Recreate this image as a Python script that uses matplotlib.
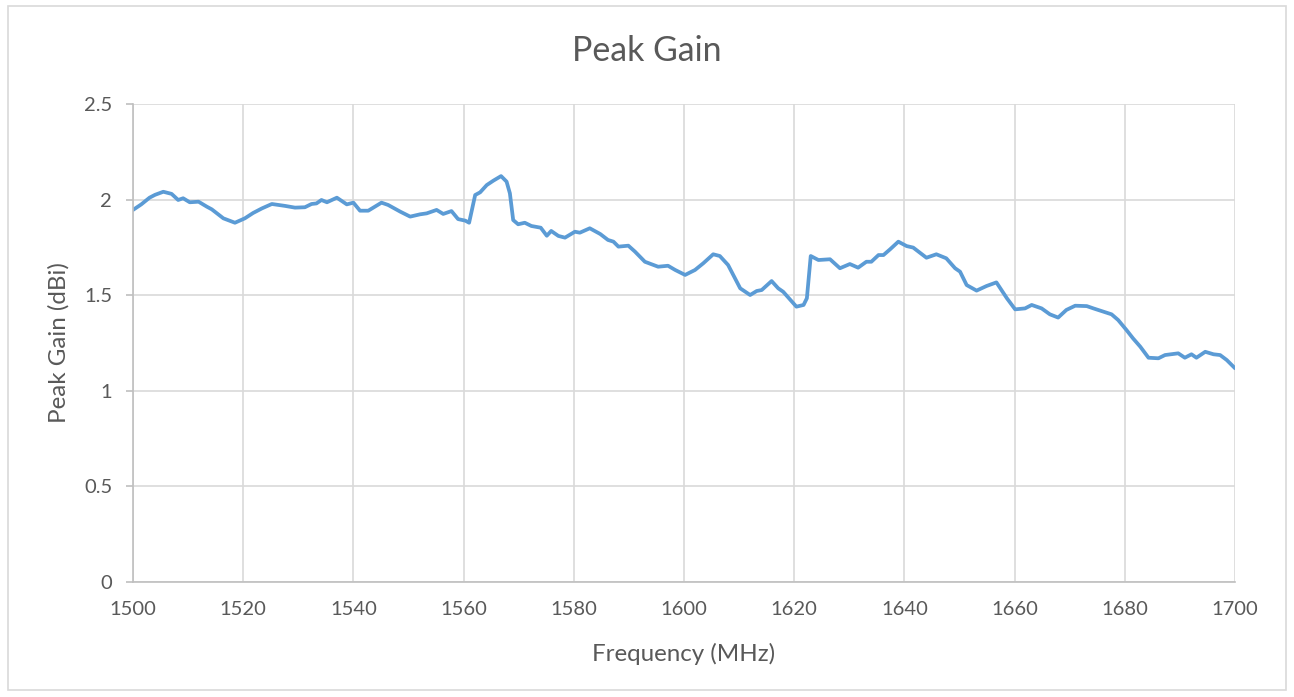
import matplotlib
matplotlib.use("Agg")
import matplotlib.pyplot as plt
from matplotlib.patches import Rectangle

freq = [1500, 1501.5, 1503, 1504, 1505.5, 1507, 1508.2, 1509.1, 1510.3, 1511.9, 1513.4, 1514.3,
        1516.4, 1518.5, 1520.3, 1521.8, 1523.4, 1525.2, 1527.6, 1529.4, 1531.2, 1532.4, 1533.3,
        1534.2, 1535.2, 1537, 1538.8, 1540, 1541.2, 1542.7, 1543.9, 1545.1, 1546.3, 1548.5,
        1550.3, 1552.1, 1553.3, 1555.1, 1556.3, 1557.8, 1559, 1560.3, 1561, 1562.1, 1563,
        1564.2, 1565.4, 1566.8, 1567.8, 1568.4, 1569, 1569.9, 1571.1, 1572.3, 1574, 1575.1,
        1575.9, 1577.2, 1578.4, 1580.2, 1581.1, 1582.9, 1584.8, 1586.2, 1587.2, 1588.1,
        1589.9, 1591.1, 1592.9, 1595.3, 1597.1, 1598.4, 1600.2, 1602, 1603.5, 1605.3, 1606.5,
        1608, 1610.2, 1612, 1613.2, 1614.1, 1615.9, 1617.1, 1618, 1620.4, 1621.7, 1622.3,
        1623, 1624.4, 1626.5, 1628.3, 1630.1, 1631.6, 1633.1, 1634, 1635.3, 1636.2, 1637.4,
        1638.9, 1640.4, 1641.6, 1644, 1645.8, 1647.6, 1649.2, 1650.1, 1651.3, 1653.1, 1654.9,
        1656.7, 1658.6, 1660.1, 1661.9, 1663.1, 1664.9, 1666.4, 1667.9, 1669.4, 1671,
        1673.1, 1674.3, 1676.1, 1677.6, 1678.8, 1680.3, 1681.5, 1682.8, 1684.3, 1686.1,
        1687.3, 1689.7, 1690.9, 1692.1, 1693, 1694.6, 1696.1, 1697.3, 1698.5, 1700]
gain = [1.946, 1.975, 2.01, 2.025, 2.041, 2.03, 1.998, 2.007, 1.986, 1.989, 1.963, 1.949,
        1.902, 1.879, 1.902, 1.93, 1.954, 1.977, 1.967, 1.958, 1.96, 1.977, 1.98,
        1.998, 1.986, 2.01, 1.975, 1.984, 1.942, 1.942, 1.963, 1.984, 1.972, 1.937,
        1.911, 1.923, 1.928, 1.946, 1.925, 1.94, 1.898, 1.89, 1.879, 2.024, 2.038,
        2.076, 2.099, 2.123, 2.094, 2.033, 1.893, 1.871, 1.879, 1.862, 1.853, 1.811,
        1.836, 1.81, 1.801, 1.832, 1.827, 1.85, 1.82, 1.789, 1.78, 1.754,
        1.759, 1.728, 1.675, 1.649, 1.654, 1.632, 1.606, 1.632, 1.667, 1.714, 1.705,
        1.658, 1.536, 1.501, 1.522, 1.527, 1.574, 1.536, 1.518, 1.44, 1.449, 1.484,
        1.705, 1.684, 1.688, 1.641, 1.663, 1.644, 1.675, 1.675, 1.71, 1.71, 1.74,
        1.78, 1.757, 1.749, 1.696, 1.714, 1.693, 1.641, 1.623, 1.553, 1.524, 1.548,
        1.567, 1.484, 1.426, 1.431, 1.449, 1.431, 1.4, 1.383, 1.423, 1.445,
        1.443, 1.431, 1.414, 1.4, 1.37, 1.318, 1.274, 1.231, 1.173, 1.17,
        1.187, 1.196, 1.173, 1.191, 1.173, 1.204, 1.191, 1.187, 1.161, 1.118]

xticks = [1500, 1520, 1540, 1560, 1580, 1600, 1620, 1640, 1660, 1680, 1700]
yticks = [0, 0.5, 1, 1.5, 2, 2.5]
ytick_labels = ["0", "0.5", "1", "1.5", "2", "2.5"]

plt.rcParams['font.family'] = ['Lato', 'DejaVu Sans']
text_color = "#595959"
grid_color = "#D9D9D9"

W, H = 1294, 697
fig = plt.figure(figsize=(W / 100, H / 100), dpi=100)
fig.patch.set_facecolor("white")
fig.patches.append(Rectangle((8 / W, 1 - 690 / H), (1286 - 8) / W, (690 - 6) / H,
                             transform=fig.transFigure, fill=False,
                             edgecolor=grid_color, linewidth=1.2))

left, right, top, bottom = 133, 1235, 104, 582
ax = fig.add_axes([left / W, 1 - bottom / H, (right - left) / W, (bottom - top) / H])
ax.plot(freq, gain, color="#5B9BD5", linewidth=2.7, solid_capstyle="round",
        solid_joinstyle="round")
ax.set_xlim(1500, 1700)
ax.set_ylim(0, 2.5)
ax.set_xticks(xticks)
ax.set_yticks(yticks)
ax.set_yticklabels(ytick_labels)
ax.grid(True, color=grid_color, linewidth=1.2)
ax.set_axisbelow(True)
for s in ["top", "right"]:
    ax.spines[s].set_visible(False)
for s in ["left", "bottom"]:
    ax.spines[s].set_color("#BFBFBF")
    ax.spines[s].set_linewidth(1.2)
ax.tick_params(axis="both", colors="#BFBFBF", labelcolor=text_color, labelsize=14.5,
               width=1.2, direction="out")
ax.tick_params(axis="y", length=5, pad=10)
ax.tick_params(axis="x", length=0, pad=14)
ax.set_xlabel("Frequency (MHz)", fontsize=17.4, color=text_color)
ax.set_ylabel("Peak Gain (dBi)", fontsize=17.4, color=text_color)
ax.xaxis.label.set_va("center")
ax.yaxis.label.set_va("center")
ax.xaxis.set_label_coords(0.5, (582 - 654) / 478)
ax.yaxis.set_label_coords((59 - 133) / 1102, 0.5)
fig.text(0.5, 1 - 51 / H, "Peak Gain", ha="center", va="center", fontsize=24.4,
         color=text_color)

fig.savefig("out.png", dpi=100, facecolor="white")
